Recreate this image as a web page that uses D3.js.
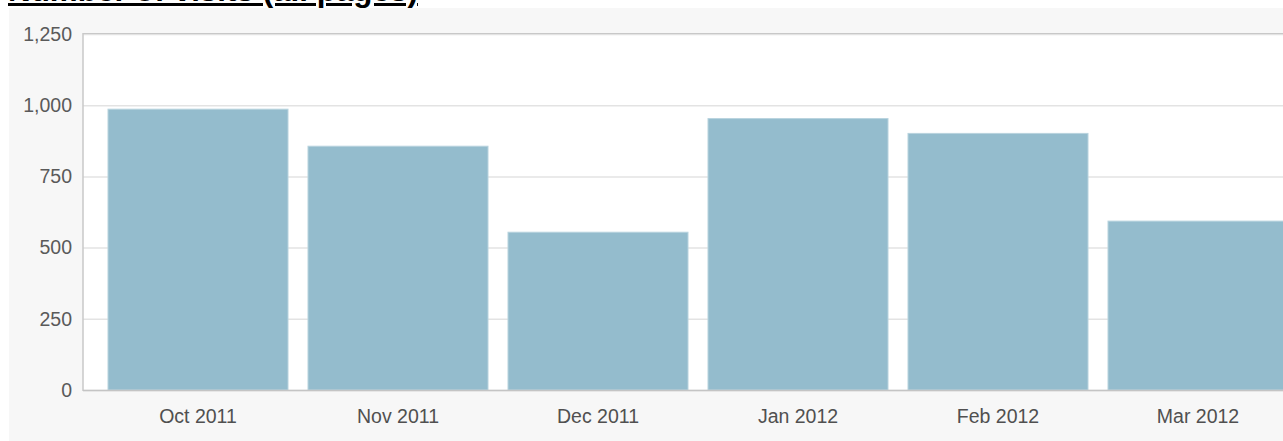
<!DOCTYPE html>
<html lang="en">
<head>
    <meta charset="UTF-8">
    <title>Number of visits</title>
    <style>
        body {
            margin: 0;
            background: #fff;
            overflow: hidden;
        }
        #title {
            position: absolute;
            left: 8px;
            top: -27px;
            margin: 0;
            font-family: "Liberation Sans", Arial, sans-serif;
            font-size: 31.4px;
            font-weight: bold;
            text-decoration: underline;
            color: #000;
            white-space: nowrap;
        }
        svg {
            position: absolute;
            left: 0;
            top: 0;
        }
        .tick text {
            font-family: "Liberation Sans", Arial, sans-serif;
            font-size: 19.5px;
        }
    </style>
</head>

<body>
    <svg id="container" width="1283" height="441"></svg>
    <h1 id="title">Number of visits (all pages)</h1>
</body>

<script src="https://cdn.jsdelivr.net/npm/d3@7"></script>

<script>
    let months = ["Oct 2011", "Nov 2011", "Dec 2011", "Jan 2012", "Feb 2012", "Mar 2012"]
    let visits = [986, 856, 554, 953, 901, 593]
    let yTicks = [0, 250, 500, 750, 1000, 1250]

    let svg = d3.select("#container")

    let plotLeft = 83, plotTop = 34, plotBottom = 390, plotRight = 1283

    // grey panel behind the chart
    svg.append("rect")
        .attr("x", 9).attr("y", 8)
        .attr("width", 1283 - 9).attr("height", 441 - 8)
        .style("fill", "#f7f7f7")

    let xScale = d3.scaleBand()
        .domain(months)
        .range([plotLeft + 15, plotLeft + 15 + 1200])
        .paddingInner(0.1)
        .paddingOuter(0.05)

    let yScale = d3.scaleLinear()
        .domain([0, 1250])
        .range([plotBottom, plotTop])

    // white plot area
    svg.append("rect")
        .attr("x", plotLeft).attr("y", plotTop)
        .attr("width", plotRight - plotLeft).attr("height", plotBottom - plotTop)
        .style("fill", "#fff")

    // grid lines
    svg.append("g")
        .attr("transform", `translate(${plotLeft},0)`)
        .call(d3.axisLeft(yScale).tickValues(yTicks).tickSize(-(plotRight - plotLeft)).tickFormat(""))
        .call(g => g.select(".domain").remove())
        .selectAll("line")
        .style("stroke", "#e3e3e3")
        .style("stroke-width", 1.5)

    // bars
    svg.append("g").selectAll("rect")
        .data(visits)
        .join("rect")
        .attr("x", (d, i) => xScale(months[i]))
        .attr("y", d => yScale(d))
        .attr("width", xScale.bandwidth())
        .attr("height", d => plotBottom - yScale(d))
        .style("fill", "#94bccd")
        .style("stroke", "#b8d3de")
        .style("stroke-width", 1)

    // frame: top, left, bottom
    svg.append("line")
        .attr("x1", plotLeft).attr("x2", plotRight).attr("y1", plotTop - 0.5).attr("y2", plotTop - 0.5)
        .style("stroke", "#c8c8c8")
    svg.append("line")
        .attr("x1", plotLeft).attr("x2", plotLeft).attr("y1", plotTop - 1).attr("y2", plotBottom + 1)
        .style("stroke", "#c8c8c8").style("stroke-width", 1.5)
    svg.append("line")
        .attr("x1", plotLeft).attr("x2", plotRight).attr("y1", plotBottom + 0.5).attr("y2", plotBottom + 0.5)
        .style("stroke", "#c4c4c4").style("stroke-width", 1.5)

    // y axis labels
    let yAxis = d3.axisLeft(yScale)
        .tickValues(yTicks)
        .tickSize(0)
        .tickPadding(11)
        .tickFormat(d3.format(","))
    svg.append("g")
        .attr("transform", `translate(${plotLeft},0)`)
        .call(yAxis)
        .call(g => g.select(".domain").remove())
        .selectAll("text")
        .style("fill", "#5a5a5a")

    // x axis labels
    let xAxis = d3.axisBottom(xScale).tickSize(0).tickPadding(19)
    svg.append("g")
        .attr("transform", `translate(0,${plotBottom})`)
        .call(xAxis)
        .call(g => g.select(".domain").remove())
        .selectAll("text")
        .style("fill", "#505050")
</script>

</html>
